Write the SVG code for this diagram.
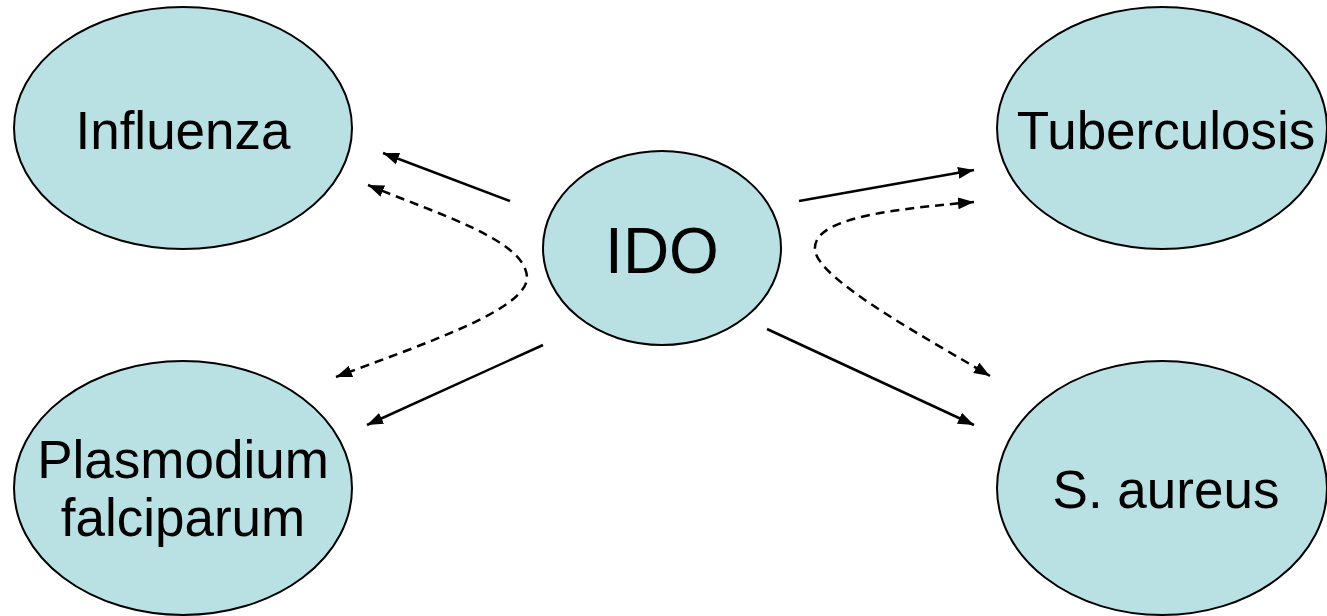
<svg xmlns="http://www.w3.org/2000/svg" width="1327" height="616" viewBox="0 0 1327 616">
  <style>
    .node { fill: #b9e0e3; stroke: #000; stroke-width: 2; }
    .label { font-family: "Liberation Sans", Arial, sans-serif; font-size: 53px; fill: #000; text-anchor: middle; }
    .big { font-size: 64px; }
    .solid { fill: none; stroke: #000; stroke-width: 2.5; }
    .dashed { fill: none; stroke: #000; stroke-width: 2.5; stroke-dasharray: 9 6; }
  </style>
  <defs>
    <marker id="arrow" markerUnits="userSpaceOnUse" markerWidth="18" markerHeight="14" refX="16" refY="6" orient="auto-start-reverse">
      <path d="M0,0 L16,6 L0,12 z" fill="#000"/>
    </marker>
  </defs>

  <rect width="1327" height="616" fill="#fff"/>

  <g id="influenza">
    <ellipse class="node" cx="183" cy="128" rx="169" ry="121"/>
    <text class="label" x="183" y="149">Influenza</text>
  </g>

  <g id="tuberculosis">
    <ellipse class="node" cx="1162" cy="128" rx="165" ry="121"/>
    <text class="label" x="1166" y="149">Tuberculosis</text>
  </g>

  <g id="ido">
    <ellipse class="node" cx="662" cy="248" rx="119" ry="97"/>
    <text class="label big" x="662" y="273">IDO</text>
  </g>

  <g id="plasmodium">
    <ellipse class="node" cx="183" cy="488" rx="169" ry="127"/>
    <text class="label" x="183" y="478">Plasmodium</text>
    <text class="label" x="183" y="536">falciparum</text>
  </g>

  <g id="saureus">
    <ellipse class="node" cx="1162" cy="488" rx="165" ry="127"/>
    <text class="label" x="1166" y="508">S. aureus</text>
  </g>

  <g id="connectors">
    <!-- solid arrows from IDO -->
    <line class="solid" x1="510" y1="201" x2="383" y2="153" marker-end="url(#arrow)"/>
    <line class="solid" x1="543" y1="345" x2="367" y2="425" marker-end="url(#arrow)"/>
    <line class="solid" x1="799" y1="201" x2="974" y2="170" marker-end="url(#arrow)"/>
    <line class="solid" x1="767" y1="329" x2="974" y2="425" marker-end="url(#arrow)"/>
    <!-- dashed double-headed curves -->
    <path class="dashed" d="M368,185 C440,215 525,240 527,277 C528,310 420,345 336,377" marker-start="url(#arrow)" marker-end="url(#arrow)"/>
    <path class="dashed" d="M974,202 C880,210 812,220 815,250 C818,280 930,340 990,376" marker-start="url(#arrow)" marker-end="url(#arrow)"/>
  </g>
</svg>
